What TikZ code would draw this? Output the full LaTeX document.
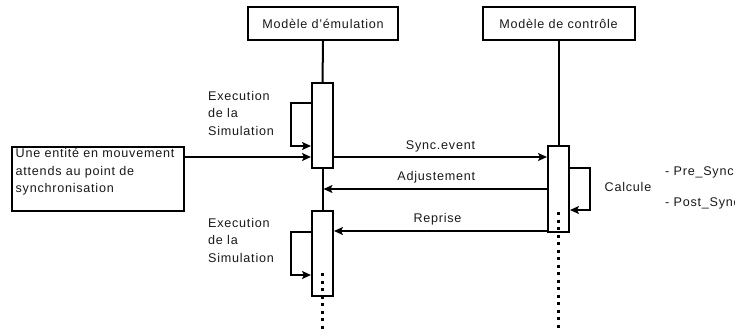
\documentclass[tikz,border=0pt]{standalone}
\usepackage{fontspec}
\setmainfont{Liberation Sans}[LetterSpace=6]
\usetikzlibrary{arrows.meta}
\begin{document}
\begin{tikzpicture}[x=1pt,y=-1pt,
  every node/.style={font=\fontsize{12.6}{17.5}\selectfont, text=black!90},
  hdr/.style={draw, line width=2pt, minimum width=150pt, minimum height=33pt, inner sep=0pt},
  actbox/.style={draw, fill=white, line width=2pt, minimum width=21pt, inner sep=0pt},
  msg/.style={line width=2pt},
  arr/.style={msg, -{Stealth[length=9pt,width=8pt,inset=2pt]}},
  life/.style={line width=2pt},
  dots/.style={line width=2.2pt, dash pattern=on 3pt off 4.5pt},
  lbl/.style={inner sep=0pt, align=left}]
\useasboundingbox (0,0) rectangle (735,329);
% headers
\node[hdr] (em) at (323,23.5) {Modèle d'émulation};
\node[hdr, minimum width=152pt] (ct) at (558.5,23.5) {Modèle de contrôle};
% lifelines (solid)
\coordinate (a1top) at (322.5,83);
\coordinate (a2top) at (322.5,211);
\coordinate (c1top) at (558.5,146);
\draw[life] (em.south) -- (a1top);
\draw[life] (ct.south) -- (c1top);
\draw[life] (322.5,168) -- (a2top);
% activation boxes
\node[actbox, minimum height=85pt] (a1) at (322.5,125.5) {};
\node[actbox, minimum height=85pt] (a2) at (322.5,253.5) {};
\node[actbox, minimum height=86pt] (c1) at (558.5,189) {};
% dotted lifelines
\coordinate (d1) at (322.5,273);
\coordinate (d1e) at (322.5,332);
\coordinate (d2) at (558.5,212);
\coordinate (d2e) at (558.5,332);
\draw[dots] (d1) -- (d1e);
\draw[dots] (d2) -- (d2e);
% entity box
\node[draw, line width=2pt, minimum width=172pt, minimum height=64pt, inner sep=0pt] (ent) at (98,179) {};
\node[lbl, anchor=north west] (entt) at (15.5,148.5) {Une entité en mouvement\\attends au point de\\synchronisation};
% self loops
\draw[arr] (a1.west |- 0,103) -- (291,103) -- (291,146) -- (a1.west |- 0,146);
\draw[arr] (a2.west |- 0,232) -- (291,232) -- (291,275) -- (a2.west |- 0,275);
\draw[arr] (c1.east |- 0,168) -- (590,168) -- (590,210) -- (c1.east |- 0,210);
% messages
\draw[arr] (ent.east |- 0,157) -- (a1.west |- 0,157);
\draw[arr] (a1.east |- 0,157) -- node[above=4pt, inner sep=0pt] (l1) {Sync.event} (c1.west |- 0,157);
\draw[arr] (c1.west |- 0,189) -- node[above=5pt, inner sep=0pt, xshift=1pt] (l2) {Adjustement} (323.5,189);
\draw[arr] (c1.west |- 0,231) -- node[above=5pt, inner sep=0pt, xshift=-3pt] (l3) {Reprise} (a2.east |- 0,231);
% labels
\node[lbl, anchor=west] (ex1) at (208,113) {Execution\\de la\\Simulation};
\node[lbl, anchor=west] (ex2) at (208,240) {Execution\\de la\\Simulation};
\node[lbl] (calc) at (628,187) {Calcule};
\node[lbl, anchor=west] (pre) at (665,172) {- Pre\_Sync};
\node[lbl, anchor=west] (post) at (665,203) {- Post\_Sync};
\end{tikzpicture}
\end{document}
